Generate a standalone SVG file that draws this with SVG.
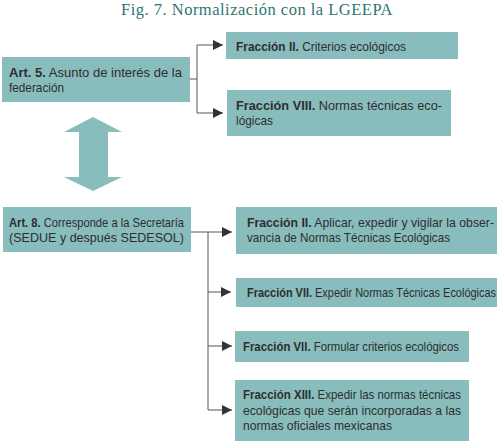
<svg xmlns="http://www.w3.org/2000/svg" width="497" height="444" viewBox="0 0 497 444">
<style>
.box{fill:#88bcbd}
.t{font-family:"Liberation Sans",Arial,sans-serif;font-size:13.5px;fill:#2e2e2e}
.b{font-weight:bold}
.title{font-family:"Liberation Serif","Times New Roman",serif;font-size:17px;fill:#2e7573;letter-spacing:0.5px}
.c{fill:none;stroke:#555;stroke-width:1}
</style>
<defs>
<marker id="ah" markerUnits="userSpaceOnUse" markerWidth="10" markerHeight="10" refX="10" refY="5" orient="auto">
<path d="M0,0 L10,5 L0,10 z" fill="#333"/>
</marker>
</defs>
<rect width="497" height="444" fill="#fff"/>
<text class="title" x="257" y="15" text-anchor="middle" textLength="272" lengthAdjust="spacingAndGlyphs">Fig. 7. Normalización con la LGEEPA</text>

<g id="connectors">
<path class="c" d="M186,79 H197 M197,45 V113"/>
<path class="c" d="M197,45 H223" marker-end="url(#ah)"/>
<path class="c" d="M197,113 H223" marker-end="url(#ah)"/>
<path class="c" d="M191,232 H232" marker-end="url(#ah)"/>
<path class="c" d="M208,232 V410"/>
<path class="c" d="M208,292 H231" marker-end="url(#ah)"/>
<path class="c" d="M208,346 H232" marker-end="url(#ah)"/>
<path class="c" d="M208,410 H232" marker-end="url(#ah)"/>
<polygon id="double-arrow" points="93,117 122,132 108,132 108,177 122,177 93,191 64,177 79,177 79,132 64,132" fill="#88bcbd"/>
</g>

<g id="art5">
<rect class="box" x="2" y="57" width="188" height="45"/>
<text class="t" x="9" y="77" textLength="173" lengthAdjust="spacingAndGlyphs"><tspan class="b">Art. 5.</tspan> Asunto de interés de la</text>
<text class="t" x="9" y="92" textLength="55" lengthAdjust="spacingAndGlyphs">federación</text>
</g>

<g id="fraccion2-top">
<rect class="box" x="226" y="32" width="232" height="27"/>
<text class="t" x="236" y="51" textLength="170" lengthAdjust="spacingAndGlyphs"><tspan class="b">Fracción II.</tspan> Criterios ecológicos</text>
</g>

<g id="fraccion8">
<rect class="box" x="227" y="90" width="224" height="46"/>
<text class="t" x="236" y="110" textLength="206" lengthAdjust="spacingAndGlyphs"><tspan class="b">Fracción VIII.</tspan> Normas técnicas eco-</text>
<text class="t" x="236" y="125" textLength="37" lengthAdjust="spacingAndGlyphs">lógicas</text>
</g>

<g id="art8">
<rect class="box" x="3" y="207" width="188" height="45"/>
<text class="t" x="9" y="227" textLength="175" lengthAdjust="spacingAndGlyphs"><tspan class="b">Art. 8.</tspan> Corresponde a la Secretaría</text>
<text class="t" x="9" y="242" textLength="175" lengthAdjust="spacingAndGlyphs">(SEDUE y después SEDESOL)</text>
</g>

<g id="fraccion2-aplicar">
<rect class="box" x="236" y="207" width="261" height="47"/>
<text class="t" x="247" y="227" textLength="247" lengthAdjust="spacingAndGlyphs"><tspan class="b">Fracción II.</tspan> Aplicar, expedir y vigilar la obser-</text>
<text class="t" x="247" y="242" textLength="203" lengthAdjust="spacingAndGlyphs">vancia de Normas Técnicas Ecológicas</text>
</g>

<g id="fraccion7-expedir">
<rect class="box" x="236" y="278" width="261" height="29"/>
<text class="t" x="247" y="297" textLength="249" lengthAdjust="spacingAndGlyphs"><tspan class="b">Fracción VII.</tspan> Expedir Normas Técnicas Ecológicas</text>
</g>

<g id="fraccion7-formular">
<rect class="box" x="235" y="331" width="234" height="31"/>
<text class="t" x="243" y="351" textLength="216" lengthAdjust="spacingAndGlyphs"><tspan class="b">Fracción VII.</tspan> Formular criterios ecológicos</text>
</g>

<g id="fraccion13">
<rect class="box" x="235" y="380" width="234" height="61"/>
<text class="t" x="243" y="399" textLength="218" lengthAdjust="spacingAndGlyphs"><tspan class="b">Fracción XIII.</tspan> Expedir las normas técnicas</text>
<text class="t" x="243" y="415" textLength="218" lengthAdjust="spacingAndGlyphs">ecológicas que serán incorporadas a las</text>
<text class="t" x="243" y="430" textLength="149" lengthAdjust="spacingAndGlyphs">normas oficiales mexicanas</text>
</g>
</svg>
